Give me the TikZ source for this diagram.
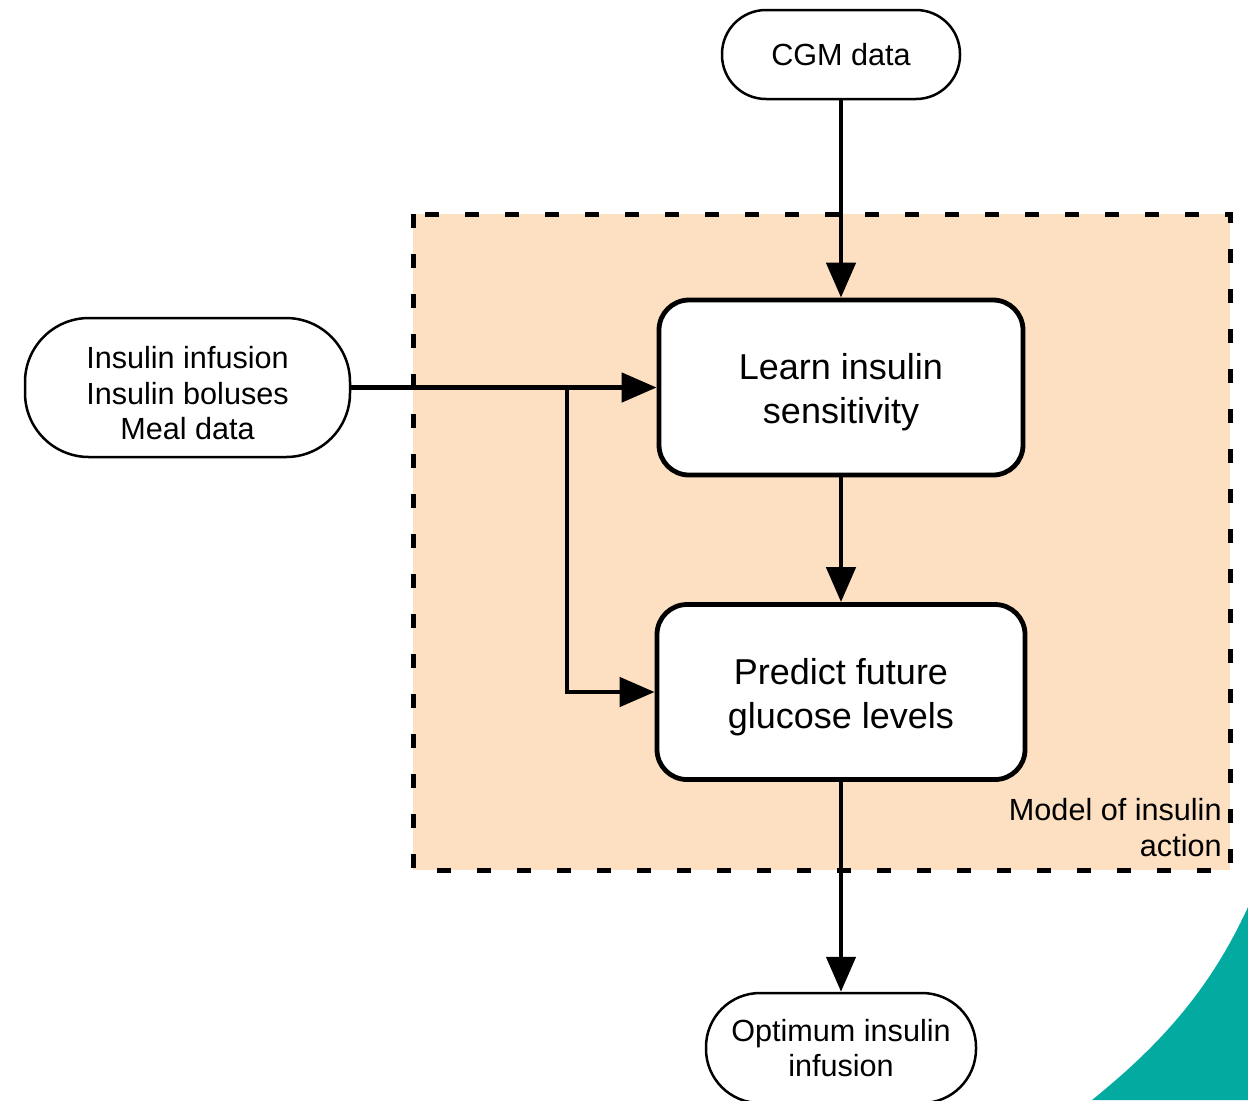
\documentclass[tikz,border=0pt]{standalone}
\usepackage{fontspec}
\setmainfont{Liberation Sans}
\usetikzlibrary{arrows.meta}
\definecolor{peach}{HTML}{FDE0C2}
\definecolor{tealbg}{HTML}{02AAA0}
\newcommand\topstrut[1]{\rule{0pt}{#1}}
\begin{document}
\begin{tikzpicture}[x=0.5pt,y=-0.5pt,
 term/.style={draw, fill=white, line width=1.25pt, rounded corners=#1, align=center, font=\fontsize{15.3}{17.8}\selectfont, inner sep=0pt},
 proc/.style={draw, line width=2.4pt, fill=white, rounded corners=15pt, align=center, font=\fontsize{18}{22}\selectfont, minimum width=182pt, minimum height=87.5pt, inner sep=0pt},
 flow/.style={line width=2.4pt, -{Triangle[length=17.5pt,width=14.5pt]}},
 lbl/.style={align=right, font=\fontsize{15.3}{18}\selectfont, inner sep=0pt},
]
\useasboundingbox (0,0) rectangle (1248,1100);
\fill[tealbg] (1248,907) .. controls (1210,990) and (1160,1045) .. (1092,1100) -- (1248,1100) -- cycle;
\draw[fill=peach, line width=2.5pt, dash pattern=on 7pt off 13pt] (413,214) rectangle (1230,870);
\node[lbl, anchor=east] (model) at (1222,828) {Model of insulin\\action};

\node[term=22pt, minimum width=119pt, minimum height=44.5pt] (cgm) at (841,54.5) {CGM data};
\node[term=32pt, minimum width=162.5pt, minimum height=69.5pt] (inp) at (187.5,387.5) {\topstrut{17pt}Insulin infusion\\Insulin boluses\\Meal data};
\node[proc] (learn) at (841,387.5) {\topstrut{18pt}Learn insulin\\sensitivity};
\node[proc, minimum width=184pt] (pred) at (841,692) {\topstrut{18.2pt}Predict future\\glucose levels};
\node[term=27pt, minimum width=135pt, minimum height=55pt] (opt) at (841,1048) {Optimum insulin\\infusion};

\coordinate (br) at (567,387.5);
\draw[flow] (cgm) -- (learn);
\draw[flow] (inp.east) -- (learn.west);
\draw[flow] (br) |- (pred.west);
\draw[flow] (learn) -- (pred);
\draw[flow] (pred) -- (opt);
\end{tikzpicture}
\end{document}
